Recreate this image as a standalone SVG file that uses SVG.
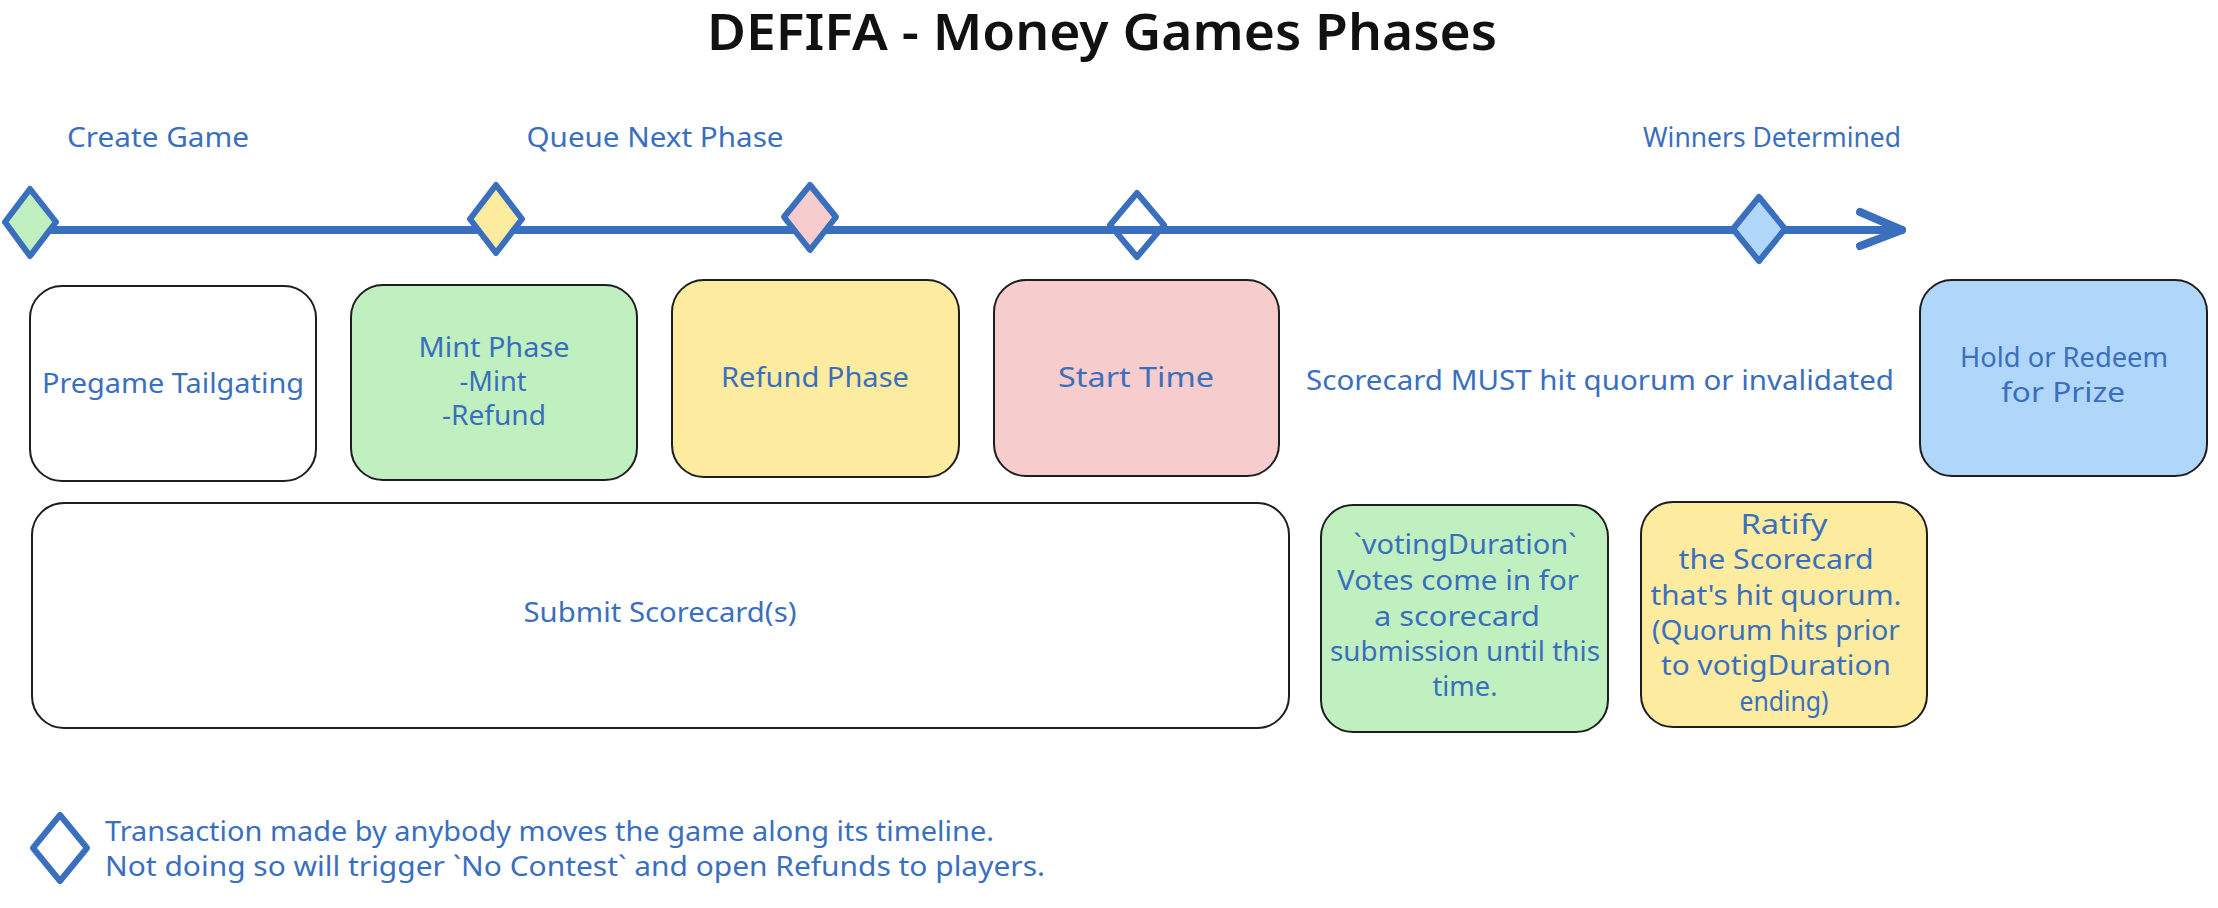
<svg xmlns="http://www.w3.org/2000/svg" width="2218" height="908" viewBox="0 0 2218 908">
<style>
.t{font-family:"Noto Sans","DejaVu Sans",sans-serif;font-size:27px;fill:#3a6fbd;text-anchor:middle}
.tl{font-family:"Noto Sans","DejaVu Sans",sans-serif;font-size:27px;fill:#3a6fbd}
.title{font-family:"Noto Sans","DejaVu Sans",sans-serif;font-size:50px;fill:#111;text-anchor:middle;font-weight:600}
.box{stroke:#1e1e1e;stroke-width:2}
.dia{stroke:#3a6fbd;stroke-width:6;stroke-linejoin:round}
.line{stroke:#3a6fbd;stroke-width:8;fill:none;stroke-linecap:round;stroke-linejoin:round}
</style>
<defs>
<marker id="arr" markerUnits="userSpaceOnUse" markerWidth="60" markerHeight="60" refX="46" refY="30" orient="auto">
<path d="M4 12 L46 30 L4 46" fill="none" stroke="#3a6fbd" stroke-width="8" stroke-linecap="round" stroke-linejoin="round"/>
</marker>
</defs>
<rect width="2218" height="908" fill="#fff"/>
<text class="title" x="1102" y="50" textLength="790" lengthAdjust="spacingAndGlyphs">DEFIFA - Money Games Phases</text>

<g id="connectors">
<line class="line" x1="32" y1="230" x2="1902" y2="230" marker-end="url(#arr)"/>
</g>

<g id="label-create"><text class="t" x="158" y="147" textLength="182" lengthAdjust="spacingAndGlyphs">Create Game</text></g>
<g id="label-queue"><text class="t" x="655" y="147" textLength="257" lengthAdjust="spacingAndGlyphs">Queue Next Phase</text></g>
<g id="label-winners"><text class="t" x="1772" y="147" textLength="258" lengthAdjust="spacingAndGlyphs">Winners Determined</text></g>

<g id="d1"><polygon class="dia" fill="#c0efc0" points="30,189 56,222 30,256 5,222"/></g>
<g id="d2"><polygon class="dia" fill="#fdeba0" points="496,185 522,219 496,253 470,219"/></g>
<g id="d3"><polygon class="dia" fill="#f7cccc" points="810,185 836,217 810,250 784,217"/></g>
<g id="d4"><polygon class="dia" fill="none" points="1137,193 1164,225 1137,257 1110,225"/></g>
<g id="d5"><polygon class="dia" fill="#b0d6fa" points="1759,197 1785,229 1759,261 1733,229"/></g>

<g id="pregame"><rect class="box" x="30" y="286" width="286" height="195" rx="32" fill="#fff"/>
<text class="t" x="173" y="393" textLength="262" lengthAdjust="spacingAndGlyphs">Pregame Tailgating</text></g>

<g id="mint"><rect class="box" x="351" y="285" width="286" height="195" rx="32" fill="#c0efc0"/>
<text class="t" x="494" y="357" textLength="151" lengthAdjust="spacingAndGlyphs">Mint Phase</text>
<text class="t" x="493" y="391" textLength="67" lengthAdjust="spacingAndGlyphs">-Mint</text>
<text class="t" x="494" y="425" textLength="104" lengthAdjust="spacingAndGlyphs">-Refund</text></g>

<g id="refund"><rect class="box" x="672" y="280" width="287" height="197" rx="32" fill="#fdeba0"/>
<text class="t" x="815" y="387" textLength="188" lengthAdjust="spacingAndGlyphs">Refund Phase</text></g>

<g id="start"><rect class="box" x="994" y="280" width="285" height="196" rx="32" fill="#f7cccc"/>
<text class="t" x="1136" y="387" textLength="156" lengthAdjust="spacingAndGlyphs">Start Time</text></g>

<g id="quorum-note"><text class="t" x="1600" y="390" textLength="588" lengthAdjust="spacingAndGlyphs">Scorecard MUST hit quorum or invalidated</text></g>

<g id="hold"><rect class="box" x="1920" y="280" width="287" height="196" rx="32" fill="#b0d6fa"/>
<text class="t" x="2064" y="367" textLength="208" lengthAdjust="spacingAndGlyphs">Hold or Redeem</text>
<text class="t" x="2063" y="402" textLength="124" lengthAdjust="spacingAndGlyphs">for Prize</text></g>

<g id="submit"><rect class="box" x="32" y="503" width="1257" height="225" rx="32" fill="#fff"/>
<text class="t" x="660" y="622" textLength="273" lengthAdjust="spacingAndGlyphs">Submit Scorecard(s)</text></g>

<g id="voting"><rect class="box" x="1321" y="505" width="287" height="227" rx="32" fill="#c0efc0"/>
<text class="t" x="1465" y="554" textLength="223" lengthAdjust="spacingAndGlyphs">`votingDuration`</text>
<text class="t" x="1458" y="590" textLength="242" lengthAdjust="spacingAndGlyphs">Votes come in for</text>
<text class="t" x="1457" y="626" textLength="166" lengthAdjust="spacingAndGlyphs">a scorecard</text>
<text class="t" x="1465" y="661" textLength="270" lengthAdjust="spacingAndGlyphs">submission until this</text>
<text class="t" x="1465" y="696" textLength="65" lengthAdjust="spacingAndGlyphs">time.</text></g>

<g id="ratify"><rect class="box" x="1641" y="502" width="286" height="225" rx="32" fill="#fdeba0"/>
<text class="t" x="1784" y="534" textLength="87" lengthAdjust="spacingAndGlyphs">Ratify</text>
<text class="t" x="1776" y="569" textLength="195" lengthAdjust="spacingAndGlyphs">the Scorecard</text>
<text class="t" x="1776" y="605" textLength="251" lengthAdjust="spacingAndGlyphs">that's hit quorum.</text>
<text class="t" x="1776" y="640" textLength="248" lengthAdjust="spacingAndGlyphs">(Quorum hits prior</text>
<text class="t" x="1776" y="675" textLength="230" lengthAdjust="spacingAndGlyphs">to votigDuration</text>
<text class="t" x="1784" y="711" textLength="89" lengthAdjust="spacingAndGlyphs">ending)</text></g>

<g id="legend"><polygon class="dia" fill="none" points="60,815 87,848 60,881 33,848"/>
<text class="tl" x="105" y="841" textLength="889" lengthAdjust="spacingAndGlyphs">Transaction made by anybody moves the game along its timeline.</text>
<text class="tl" x="105" y="876" textLength="940" lengthAdjust="spacingAndGlyphs">Not doing so will trigger `No Contest` and open Refunds to players.</text></g>
</svg>
